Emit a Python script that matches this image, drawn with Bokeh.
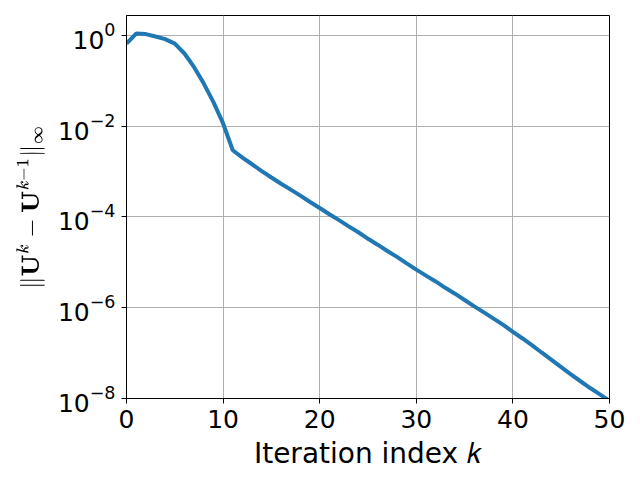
from bokeh.plotting import figure
from bokeh.models import Range1d, FixedTicker, TeX
from bokeh.embed import file_html
from bokeh.resources import INLINE

# Iteration index k
k = list(range(0, 51))
# ||U^k - U^{k-1}||_inf
err = [0.66, 1.10, 1.07, 0.95, 0.83, 0.66, 0.40, 0.20, 8.7e-2, 3.4e-2,
       1.15e-2, 2.95e-3, 2.04e-3, 1.45e-3, 1.02e-3, 7.4e-4, 5.4e-4, 4.0e-4, 2.95e-4, 2.14e-4,
       1.58e-4, 1.15e-4, 8.5e-5, 6.2e-5, 4.6e-5, 3.3e-5, 2.45e-5, 1.78e-5, 1.32e-5, 9.5e-6,
       6.9e-6, 5.1e-6, 3.8e-6, 2.75e-6, 2.04e-6, 1.48e-6, 1.07e-6, 7.9e-7, 5.75e-7, 4.2e-7,
       2.95e-7, 2.1e-7, 1.48e-7, 1.02e-7, 7.1e-8, 4.9e-8, 3.4e-8, 2.4e-8, 1.7e-8, 1.23e-8,
       8.9e-9]
x_ticks = [0, 10, 20, 30, 40, 50]
y_ticks = [1e-8, 1e-6, 1e-4, 1e-2, 1e0]

p = figure(width=640, height=480, y_axis_type="log", output_backend="svg",
           toolbar_location=None,
           x_range=Range1d(0, 50), y_range=Range1d(1e-8, 2.75),
           min_border_left=126, min_border_right=31, min_border_top=15,
           min_border_bottom=82)

p.line(k, err, line_color="#1f77b4", line_width=4)

p.outline_line_color = "black"
p.outline_line_alpha = 1
p.outline_line_width = 1

for ax in (p.xaxis, p.yaxis):
    ax.axis_line_color = "black"
    ax.major_tick_line_color = "black"
    ax.major_tick_in = 0
    ax.major_tick_out = 5
    ax.minor_tick_line_color = None
    ax.major_label_text_font = "DejaVu Sans"
    ax.major_label_text_font_size = "25px"
    ax.major_label_text_color = "black"
    ax.major_label_standoff = 6
    ax.axis_label_text_font = "DejaVu Sans"
    ax.axis_label_text_font_style = "normal"
    ax.axis_label_text_color = "black"

p.xaxis.axis_label_text_font_size = "28px"
p.yaxis.axis_label_text_font_size = "19px"
p.xaxis.axis_label_standoff = 6
p.yaxis.axis_label_standoff = 10

p.xaxis.ticker = FixedTicker(ticks=x_ticks)
p.yaxis.ticker = FixedTicker(ticks=y_ticks)
p.xaxis.axis_label = "Iteration index 𝑘"
p.yaxis.axis_label = TeX(text=r"\|\mathbf{U}^k - \mathbf{U}^{k-1}\|_\infty")

p.xgrid.ticker = FixedTicker(ticks=x_ticks)
p.ygrid.ticker = FixedTicker(ticks=y_ticks)
p.grid.grid_line_color = "#b0b0b0"
p.grid.grid_line_width = 1

open("out.html", "w").write(file_html(p, INLINE))
